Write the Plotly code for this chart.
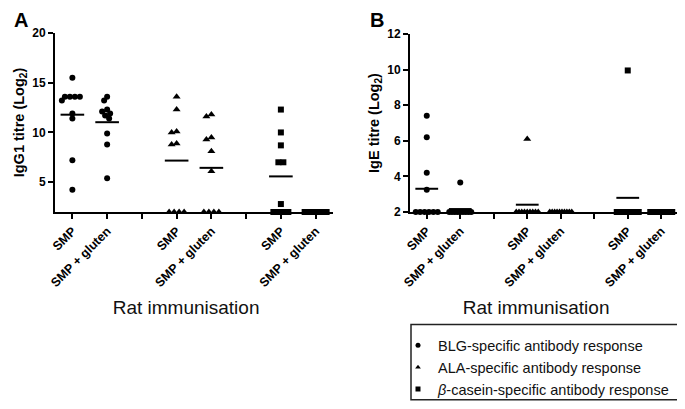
import numpy as np
import plotly.graph_objects as go

# ---------------- data ----------------
tick_positions = [1, 2, 4, 5, 7, 8]
tick_labels = ["SMP", "SMP + gluten", "SMP", "SMP + gluten", "SMP", "SMP + gluten"]
group_separators = [3, 6]
antigen_names = ["BLG-specific antibody response",
                 "ALA-specific antibody response",
                 "<i>β</i>-casein-specific antibody response"]
x_title = "Rat immunisation"
y_title_a = "<b>IgG1 titre (Log<sub>2</sub>)</b>"
y_title_b = "<b>IgE titre (Log<sub>2</sub>)</b>"

# Panel A: IgG1 titre (Log2)
igg1_blg_smp = [15.5, 13.6, 13.6, 13.6, 13.6, 13.2, 11.9, 11.4, 7.2, 4.25]
igg1_blg_glu = [13.6, 13.2, 12.3, 12.1, 11.9, 11.7, 11.4, 9.9, 8.8, 5.4]
igg1_ala_smp = [13.6, 12.3, 10.1, 10.0, 8.9, 8.8, 2, 2, 2, 2]
igg1_ala_glu = [11.8, 11.6, 9.5, 9.3, 8.1, 6.1, 2, 2, 2, 2]
igg1_cas_smp = [12.3, 10.0, 8.7, 7.0, 7.0, 2.8, 2, 2, 2, 2]
igg1_cas_glu = [2, 2, 2, 2, 2, 2, 2, 2, 2, 2]

# Panel B: IgE titre (Log2)
ige_blg_smp = [7.4, 6.2, 4.2, 3.25, 2, 2, 2, 2, 2, 2]
ige_blg_glu = [3.65, 2, 2, 2, 2, 2, 2, 2, 2, 2]
ige_ala_smp = [6.1, 2, 2, 2, 2, 2, 2, 2, 2, 2]
ige_ala_glu = [2, 2, 2, 2, 2, 2, 2, 2, 2, 2]
ige_cas_smp = [9.95, 2, 2, 2, 2, 2, 2, 2, 2, 2]
ige_cas_glu = [2, 2, 2, 2, 2, 2, 2, 2, 2, 2]

yticks_a = [5, 10, 15, 20]
yticks_b = [2, 4, 6, 8, 10, 12]

panel_a = [[igg1_blg_smp, igg1_blg_glu], [igg1_ala_smp, igg1_ala_glu], [igg1_cas_smp, igg1_cas_glu]]
panel_b = [[ige_blg_smp, ige_blg_glu], [ige_ala_smp, ige_ala_glu], [ige_cas_smp, ige_cas_glu]]

# ---------------- layout geometry ----------------
W, H = 685, 409
ML, MR, MT, MB = 47, 15, 25, 198
PW, PH = W - ML - MR, H - MT - MB
XR = [0.5, 8.5]
YRA = [2, 20]
YRB = [2, 12]
dom_a = [0, (325 - ML) / PW]
dom_b = [(402 - ML) / PW, 1]
ydom_b = [0, (210 - MT) / PH]

px_x_a = (dom_a[1] - dom_a[0]) * PW / (XR[1] - XR[0])
px_x_b = (dom_b[1] - dom_b[0]) * PW / (XR[1] - XR[0])
px_y_a = PH / (YRA[1] - YRA[0])
px_y_b = (ydom_b[1] - ydom_b[0]) * PH / (YRB[1] - YRB[0])


def px2x(px):
    return (px - ML) / PW


def px2y(py):
    return 1 - (py - MT) / PH


def swarm(vals, ppx, ppy, step=5.0, cap=11.0, d=5.0):
    """Column-scatter layout: tied values spread symmetrically, others avoid overlap."""
    vals = list(vals)
    offs = [None] * len(vals)
    placed = []
    uniq = {}
    for i, v in enumerate(vals):
        uniq.setdefault(v, []).append(i)
    for v, idx in uniq.items():
        n = len(idx)
        if n > 1:
            s = min(step, 2 * cap / (n - 1))
            for k, i in enumerate(idx):
                o = (k - (n - 1) / 2) * s
                offs[i] = o
                placed.append((o, v * ppy))
    cands = [0.0]
    k = 0.5
    while k <= 40:
        cands += [-k, k]
        k += 0.5
    for i, v in enumerate(vals):
        if offs[i] is not None:
            continue
        y = v * ppy
        for c in cands:
            if all((c - px) ** 2 + (y - py) ** 2 >= d * d for px, py in placed):
                break
        offs[i] = c
        placed.append((c, y))
    return [o / ppx for o in offs]


symbols = ["circle", "triangle-up", "square"]
sizes = [6, 7, 6]
FONT = "Liberation Sans, Arial, sans-serif"

fig = go.Figure()

for panel, (xa, ya, ppx, ppy) in enumerate([("x", "y", px_x_a, px_y_a), ("x2", "y2", px_x_b, px_y_b)]):
    data = panel_a if panel == 0 else panel_b
    for a, pair in enumerate(data):
        for c, vals in enumerate(pair):
            pos = 3 * a + c + 1
            offs = swarm(vals, ppx, ppy)
            fig.add_trace(go.Scatter(
                x=[pos + o for o in offs], y=vals, xaxis=xa, yaxis=ya,
                mode="markers", showlegend=False, cliponaxis=False,
                marker=dict(symbol=symbols[a], size=sizes[a], color="black", line=dict(width=0)),
                hoverinfo="y"))
            m = float(np.mean(vals))
            fig.add_trace(go.Scatter(
                x=[pos - 0.34, pos + 0.34], y=[m, m], xaxis=xa, yaxis=ya,
                mode="lines", showlegend=False, cliponaxis=False,
                line=dict(color="black", width=2), hoverinfo="skip"))

# legend entries
for a in range(3):
    fig.add_trace(go.Scatter(
        x=[None], y=[None], mode="markers", name=antigen_names[a],
        marker=dict(symbol=symbols[a], size=5, color="black"), showlegend=True))

axis_common = dict(showline=True, linecolor="black", linewidth=2, showgrid=False, zeroline=False,
                   ticks="outside", ticklen=5, tickwidth=1.5, tickcolor="black", automargin=False)
ytickfont = dict(family=FONT, size=12, color="black", weight="bold")
xtickfont = dict(family=FONT, size=12.5, color="black", weight="bold")
minor_sep = dict(tickmode="array", tickvals=group_separators, ticks="outside", ticklen=5,
                 tickwidth=1.5, tickcolor="black", showgrid=False)
xtitle = dict(text=x_title + "&nbsp;" * 3, font=dict(family=FONT, size=19, color="#111111"), standoff=12)
ytfont = dict(family=FONT, size=14.5, color="black")

fig.update_layout(
    width=W, height=H, margin=dict(l=ML, r=MR, t=MT, b=MB),
    paper_bgcolor="white", plot_bgcolor="white",
    font=dict(family=FONT, color="black"),
    xaxis=dict(domain=dom_a, range=XR, tickmode="array", tickvals=tick_positions, ticktext=tick_labels,
               tickangle=-45, anchor="y", tickfont=xtickfont, minor=minor_sep, title=xtitle, **axis_common),
    yaxis=dict(domain=[0, 1], range=YRA, tickvals=yticks_a, anchor="x", tickfont=ytickfont,
               title=dict(text=y_title_a, font=ytfont, standoff=4), **axis_common),
    xaxis2=dict(domain=dom_b, range=XR, tickmode="array", tickvals=tick_positions, ticktext=tick_labels,
                tickangle=-45, anchor="y2", tickfont=xtickfont, minor=minor_sep, title=xtitle, **axis_common),
    yaxis2=dict(domain=ydom_b, range=YRB, tickvals=yticks_b, anchor="x2", tickfont=ytickfont,
                title=dict(text=y_title_b, font=ytfont, standoff=4), **axis_common),
    legend=dict(x=px2x(390), y=px2y(333), xanchor="left", yanchor="top",
                bgcolor="rgba(0,0,0,0)", borderwidth=0,
                font=dict(family=FONT, size=14.5, color="#111111"), itemsizing="trace"),
    showlegend=True,
)

# legend frame
fig.add_shape(type="rect", xref="paper", yref="paper",
              x0=px2x(403), x1=px2x(682), y0=px2y(406), y1=px2y(328),
              line=dict(color="#222222", width=1.5), fillcolor="rgba(0,0,0,0)")

ann = []
ann.append(dict(text="<b>A</b>", x=px2x(13), y=px2y(11), font=dict(size=20)))
ann.append(dict(text="<b>B</b>", x=px2x(369), y=px2y(11), font=dict(size=20)))
for a_ in ann:
    a_.update(xref="paper", yref="paper", showarrow=False, xanchor="center", yanchor="middle")
    a_["font"].setdefault("family", FONT)
    a_["font"].setdefault("color", "black")
fig.update_layout(annotations=ann)

fig.write_html("out.html")
